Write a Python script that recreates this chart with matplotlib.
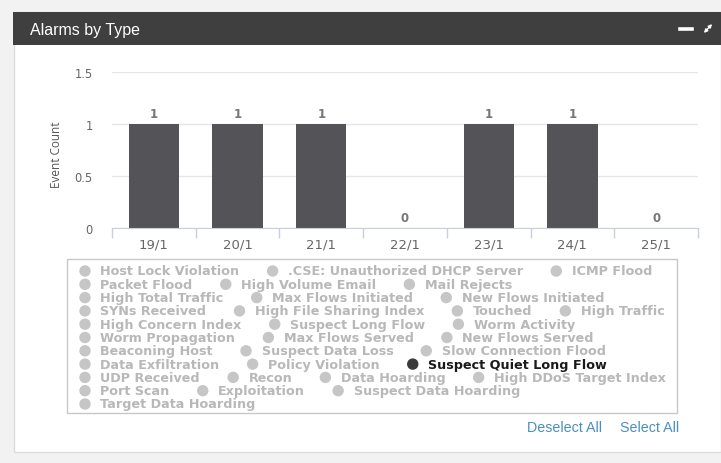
import matplotlib
matplotlib.use("Agg")
import matplotlib.pyplot as plt
from matplotlib.patches import Rectangle, Circle

# data
dates = ["19/1", "20/1", "21/1", "22/1", "23/1", "24/1", "25/1"]
counts = [1, 1, 1, 0, 1, 1, 0]
yticks = [0, 0.5, 1, 1.5]
ytick_labels = ["0", "0.5", "1", "1.5"]

legend_rows = [
    ["Host Lock Violation", ".CSE: Unauthorized DHCP Server", "ICMP Flood"],
    ["Packet Flood", "High Volume Email", "Mail Rejects"],
    ["High Total Traffic", "Max Flows Initiated", "New Flows Initiated"],
    ["SYNs Received", "High File Sharing Index", "Touched", "High Traffic"],
    ["High Concern Index", "Suspect Long Flow", "Worm Activity"],
    ["Worm Propagation", "Max Flows Served", "New Flows Served"],
    ["Beaconing Host", "Suspect Data Loss", "Slow Connection Flood"],
    ["Data Exfiltration", "Policy Violation", "Suspect Quiet Long Flow"],
    ["UDP Received", "Recon", "Data Hoarding", "High DDoS Target Index"],
    ["Port Scan", "Exploitation", "Suspect Data Hoarding"],
    ["Target Data Hoarding"],
]
selected = "Suspect Quiet Long Flow"

W, H = 721, 464
fig = plt.figure(figsize=(W / 100, H / 100), dpi=100)
fig.patch.set_facecolor("#f2f2f2")

# background layer in pixel coords (y down)
bg = fig.add_axes([0, 0, 1, 1], zorder=0)
bg.set_xlim(0, W)
bg.set_ylim(H, 0)
bg.axis("off")

bg.add_patch(Rectangle((14, 13), W - 14, 440, facecolor="white", edgecolor="#dcdcdc", lw=1))
bg.add_patch(Rectangle((13, 13), W - 13, 33, facecolor="#3f3f3f", edgecolor="none"))
bg.text(30, 30, "Alarms by Type", color="white", fontsize=11.5, family="Liberation Sans", va="center")
bg.plot([680, 692], [30, 30], color="white", lw=2.6)
bg.annotate("", xy=(714, 23), xytext=(702, 36),
            arrowprops=dict(arrowstyle="<|-|>", color="white", lw=1, mutation_scale=5))

# chart
ax = fig.add_axes([112 / W, (H - 229) / H, 586 / W, 156 / H], zorder=1)
ax.patch.set_alpha(0)
xs = list(range(len(dates)))
ax.bar(xs, counts, width=0.6, color="#545357", zorder=2)
for x, v in zip(xs, counts):
    ax.annotate(str(v), (x, v), xytext=(0, 7.5), textcoords="offset points",
                ha="center", va="center", fontsize=8.5, color="#777777", fontweight="bold")
ax.set_xlim(-0.5, len(dates) - 0.5)
ax.set_ylim(0, 1.5)
ax.set_yticks(yticks, ytick_labels)
ax.set_xticks(xs, dates)
ax.set_xticks([i - 0.5 for i in range(len(dates) + 1)], minor=True)
ax.grid(axis="y", color="#e6e6e6", lw=1)
ax.set_axisbelow(True)
for s in ["top", "right", "left"]:
    ax.spines[s].set_visible(False)
ax.spines["bottom"].set_color("#c8d0dc")
ax.tick_params(axis="x", which="major", length=0, pad=7, labelsize=9.5, labelcolor="#666666")
ax.tick_params(axis="x", which="minor", length=7, color="#c8d0dc", width=1)
ax.tick_params(axis="y", length=0, pad=14, labelsize=8.3, labelcolor="#666666")
bg.text(57, 155, "Event Count", rotation=90, ha="center", va="center", fontsize=8.5,
        family="Open Sans", color="#555555")

# legend
bg.add_patch(Rectangle((67, 260), 610, 154, facecolor="none", edgecolor="#c8c8c8", lw=1))
renderer = fig.canvas.get_renderer()
for r, row in enumerate(legend_rows):
    y = 272 + r * 13.3
    xpos = 85
    for name in row:
        active = name == selected
        bg.add_patch(Circle((xpos, y), 5, color="#3a3a3a" if active else "#c6c6c6"))
        t = bg.text(xpos + 15.5, y, name, fontsize=9.2, fontweight="bold", va="center",
                    color="#1a1a1a" if active else "#b8b8b8")
        bb = t.get_window_extent(renderer)
        xpos = bb.x1 + 33

bg.text(527, 428, "Deselect All", color="#4a8fc1", fontsize=10.3, family="Liberation Sans", va="center")
bg.text(620, 428, "Select All", color="#4a8fc1", fontsize=10.3, family="Liberation Sans", va="center")

fig.savefig("out.png", dpi=100)
